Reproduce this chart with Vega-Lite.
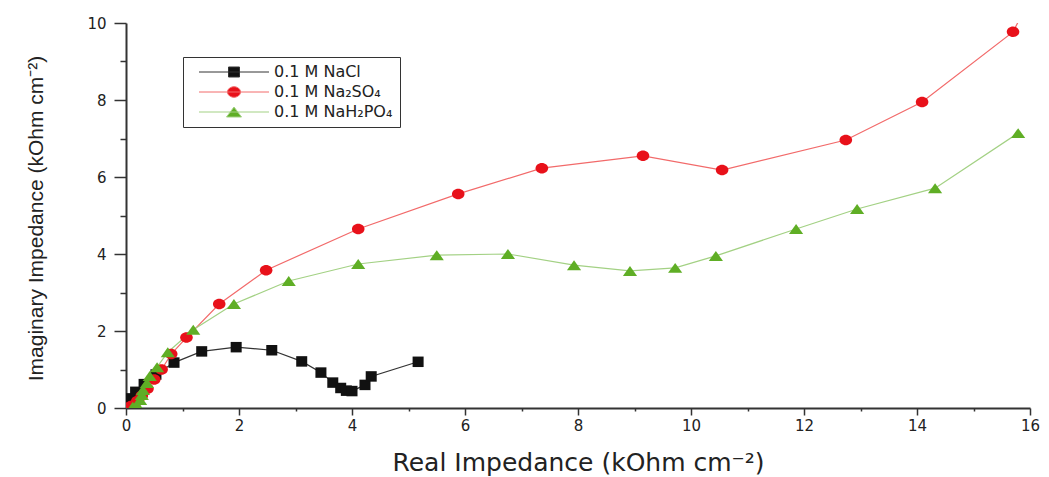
{
  "$schema": "https://vega.github.io/schema/vega-lite/v6.json",
  "width": 904,
  "height": 385,
  "autosize": {"type": "none"},
  "padding": {"left": 126, "top": 23, "right": 19, "bottom": 69},
  "background": "white",
  "config": {"view": {"stroke": null}, "font": "Liberation Sans"},
  "data": {
    "values": [
      {"s": "0.1 M NaCl", "x": 0.03, "y": 0.12},
      {"s": "0.1 M NaCl", "x": 0.08, "y": 0.25},
      {"s": "0.1 M NaCl", "x": 0.17, "y": 0.42},
      {"s": "0.1 M NaCl", "x": 0.32, "y": 0.62},
      {"s": "0.1 M NaCl", "x": 0.53, "y": 0.87},
      {"s": "0.1 M NaCl", "x": 0.85, "y": 1.18},
      {"s": "0.1 M NaCl", "x": 1.34, "y": 1.47},
      {"s": "0.1 M NaCl", "x": 1.95, "y": 1.58},
      {"s": "0.1 M NaCl", "x": 2.58, "y": 1.5},
      {"s": "0.1 M NaCl", "x": 3.11, "y": 1.21},
      {"s": "0.1 M NaCl", "x": 3.45, "y": 0.92},
      {"s": "0.1 M NaCl", "x": 3.66, "y": 0.66},
      {"s": "0.1 M NaCl", "x": 3.8, "y": 0.52},
      {"s": "0.1 M NaCl", "x": 3.9, "y": 0.45},
      {"s": "0.1 M NaCl", "x": 4.0, "y": 0.44},
      {"s": "0.1 M NaCl", "x": 4.23, "y": 0.6},
      {"s": "0.1 M NaCl", "x": 4.34, "y": 0.82},
      {"s": "0.1 M NaCl", "x": 5.17, "y": 1.2},
      {"s": "0.1 M Na₂SO₄", "x": 0.05, "y": 0.02},
      {"s": "0.1 M Na₂SO₄", "x": 0.1, "y": 0.06},
      {"s": "0.1 M Na₂SO₄", "x": 0.2, "y": 0.18},
      {"s": "0.1 M Na₂SO₄", "x": 0.28, "y": 0.32},
      {"s": "0.1 M Na₂SO₄", "x": 0.38, "y": 0.5},
      {"s": "0.1 M Na₂SO₄", "x": 0.5, "y": 0.74},
      {"s": "0.1 M Na₂SO₄", "x": 0.63, "y": 1.0},
      {"s": "0.1 M Na₂SO₄", "x": 0.8, "y": 1.4},
      {"s": "0.1 M Na₂SO₄", "x": 1.07, "y": 1.83},
      {"s": "0.1 M Na₂SO₄", "x": 1.65, "y": 2.7},
      {"s": "0.1 M Na₂SO₄", "x": 2.48, "y": 3.58},
      {"s": "0.1 M Na₂SO₄", "x": 4.11, "y": 4.65},
      {"s": "0.1 M Na₂SO₄", "x": 5.88, "y": 5.56},
      {"s": "0.1 M Na₂SO₄", "x": 7.36, "y": 6.23},
      {"s": "0.1 M Na₂SO₄", "x": 9.15, "y": 6.55},
      {"s": "0.1 M Na₂SO₄", "x": 10.55, "y": 6.18},
      {"s": "0.1 M Na₂SO₄", "x": 12.74, "y": 6.96},
      {"s": "0.1 M Na₂SO₄", "x": 14.09, "y": 7.95},
      {"s": "0.1 M Na₂SO₄", "x": 15.7, "y": 9.77},
      {"s": "0.1 M Na₂SO₄", "x": 16.2, "y": 11.2},
      {"s": "0.1 M NaH₂PO₄", "x": 0.12, "y": 0.03},
      {"s": "0.1 M NaH₂PO₄", "x": 0.19, "y": 0.08},
      {"s": "0.1 M NaH₂PO₄", "x": 0.25, "y": 0.21},
      {"s": "0.1 M NaH₂PO₄", "x": 0.28, "y": 0.34},
      {"s": "0.1 M NaH₂PO₄", "x": 0.3, "y": 0.47},
      {"s": "0.1 M NaH₂PO₄", "x": 0.37, "y": 0.65},
      {"s": "0.1 M NaH₂PO₄", "x": 0.42, "y": 0.83},
      {"s": "0.1 M NaH₂PO₄", "x": 0.55, "y": 1.06},
      {"s": "0.1 M NaH₂PO₄", "x": 0.74, "y": 1.45},
      {"s": "0.1 M NaH₂PO₄", "x": 1.19, "y": 2.03},
      {"s": "0.1 M NaH₂PO₄", "x": 1.91, "y": 2.7},
      {"s": "0.1 M NaH₂PO₄", "x": 2.88, "y": 3.3},
      {"s": "0.1 M NaH₂PO₄", "x": 4.11, "y": 3.74},
      {"s": "0.1 M NaH₂PO₄", "x": 5.5, "y": 3.97},
      {"s": "0.1 M NaH₂PO₄", "x": 6.76, "y": 4.0},
      {"s": "0.1 M NaH₂PO₄", "x": 7.93, "y": 3.71},
      {"s": "0.1 M NaH₂PO₄", "x": 8.92, "y": 3.56},
      {"s": "0.1 M NaH₂PO₄", "x": 9.72, "y": 3.64},
      {"s": "0.1 M NaH₂PO₄", "x": 10.44, "y": 3.95},
      {"s": "0.1 M NaH₂PO₄", "x": 11.86, "y": 4.65},
      {"s": "0.1 M NaH₂PO₄", "x": 12.94, "y": 5.17},
      {"s": "0.1 M NaH₂PO₄", "x": 14.32, "y": 5.71},
      {"s": "0.1 M NaH₂PO₄", "x": 15.79, "y": 7.14}
    ]
  },
  "layer": [
    {
      "mark": {"type": "line", "strokeWidth": 1.2, "clip": true},
      "encoding": {
        "x": {
          "field": "x",
          "type": "quantitative",
          "scale": {"domain": [0, 16], "nice": false, "zero": false},
          "axis": {
            "orient": "bottom",
            "values": [0, 2, 4, 6, 8, 10, 12, 14, 16],
            "tickSize": 7,
            "grid": false,
            "domainColor": "#333",
            "domainWidth": 2,
            "tickColor": "#333",
            "tickWidth": 1.5,
            "labelFont": "DejaVu Sans",
            "labelFontSize": 15,
            "labelPadding": 3,
            "labelColor": "#222",
            "labelOverlap": false,
            "labelFlush": false,
            "title": "Real Impedance (kOhm cm⁻²)",
            "titleFont": "DejaVu Sans",
            "titleFontSize": 25,
            "titleFontWeight": "normal",
            "titleColor": "#222",
            "titleY": 42,
            "titleBaseline": "top"
          }
        },
        "y": {
          "field": "y",
          "type": "quantitative",
          "scale": {"domain": [0, 10], "nice": false, "zero": false},
          "axis": {
            "orient": "left",
            "values": [0, 2, 4, 6, 8, 10],
            "tickSize": 12,
            "grid": false,
            "domainColor": "#333",
            "domainWidth": 2,
            "tickColor": "#333",
            "tickWidth": 1.5,
            "labelFont": "DejaVu Sans",
            "labelFontSize": 15,
            "labelPadding": 8,
            "labelColor": "#222",
            "labelOverlap": false,
            "labelFlush": false,
            "title": "Imaginary Impedance (kOhm cm⁻²)",
            "titleFontSize": 21,
            "titleFontWeight": "normal",
            "titleColor": "#222",
            "titleX": -80,
            "titleY": 195,
            "titleBaseline": "bottom"
          }
        },
        "stroke": {
          "field": "s",
          "type": "nominal",
          "scale": {"domain": ["0.1 M NaCl", "0.1 M Na₂SO₄", "0.1 M NaH₂PO₄"], "range": ["#333333", "#f26a6a", "#a3d184"]},
          "legend": null
        }
      }
    },
    {
      "mark": {"type": "point", "filled": true, "opacity": 1, "size": 110, "strokeWidth": 0, "clip": true},
      "encoding": {
        "x": {
          "field": "x",
          "type": "quantitative",
          "axis": {
            "orient": "bottom",
            "values": [1, 3, 5, 7, 9, 11, 13, 15],
            "tickSize": 3,
            "tickColor": "#333",
            "tickWidth": 1.5,
            "labels": false,
            "domain": false,
            "grid": false,
            "title": null
          }
        },
        "y": {
          "field": "y",
          "type": "quantitative",
          "axis": {
            "orient": "left",
            "values": [1, 3, 5, 7, 9],
            "tickSize": 6,
            "tickColor": "#333",
            "tickWidth": 1.5,
            "labels": false,
            "domain": false,
            "grid": false,
            "title": null
          }
        },
        "fill": {
          "field": "s",
          "type": "nominal",
          "scale": {"domain": ["0.1 M NaCl", "0.1 M Na₂SO₄", "0.1 M NaH₂PO₄"], "range": ["#111111", "#e8111a", "#5fae25"]},
          "legend": null
        },
        "shape": {
          "field": "s",
          "type": "nominal",
          "scale": {"domain": ["0.1 M NaCl", "0.1 M Na₂SO₄", "0.1 M NaH₂PO₄"], "range": ["M-1.05,-1H1.05V1H-1.05Z", "M-1.2,0A1.2,1 0 1,1 1.2,0A1.2,1 0 1,1 -1.2,0Z", "M0,-0.95L1.35,0.95H-1.35Z"]},
          "legend": null
        }
      }
    },
    {
      "mark": {"type": "point", "filled": true, "size": 0, "clip": true},
      "encoding": {
        "x": {"field": "x", "type": "quantitative", "axis": null},
        "y": {"field": "y", "type": "quantitative", "axis": null},
        "fill": {
          "field": "s",
          "type": "nominal",
          "scale": {"domain": ["0.1 M NaCl", "0.1 M Na₂SO₄", "0.1 M NaH₂PO₄"], "range": ["#111111", "#e8111a", "#5fae25"]},
          "legend": {
            "orient": "none",
            "legendX": 57,
            "legendY": 34,
            "title": null,
            "strokeColor": "#333",
            "fillColor": "white",
            "padding": 7,
            "symbolSize": 100,
            "symbolOffset": 36,
            "labelOffset": 32,
            "labelFont": "DejaVu Sans",
            "labelFontSize": 16,
            "labelColor": "#222",
            "labelExpr": "datum.label + '\u00a0\u00a0\u00a0\u00a0\u00a0\u00a0\u00a0\u00a0\u00a0\u00a0\u00a0\u00a0'",
            "rowPadding": 4,
            "symbolStrokeWidth": 1,
            "symbolOpacity": 1,
            "encode": {"symbols": {"update": {"strokeWidth": {"value": 1}}}}
          }
        },
        "stroke": {
          "field": "s",
          "type": "nominal",
          "scale": {"domain": ["0.1 M NaCl", "0.1 M Na₂SO₄", "0.1 M NaH₂PO₄"], "range": ["#333333", "#f26a6a", "#a3d184"]}
        },
        "shape": {
          "field": "s",
          "type": "nominal",
          "scale": {"domain": ["0.1 M NaCl", "0.1 M Na₂SO₄", "0.1 M NaH₂PO₄"], "range": ["M-7,0H7M-1.1,-1H1.1V1H-1.1Z", "M-7,0H7M-1.3,0A1.3,1.05 0 1,1 1.3,0A1.3,1.05 0 1,1 -1.3,0Z", "M-7,0H7M0,-1L1.5,1H-1.5Z"]}
        }
      }
    }
  ],
  "resolve": {
    "scale": {"fill": "independent", "stroke": "independent", "shape": "independent"},
    "axis": {"x": "independent", "y": "independent"},
    "legend": {"stroke": "independent", "fill": "independent", "shape": "independent"}
  }
}
